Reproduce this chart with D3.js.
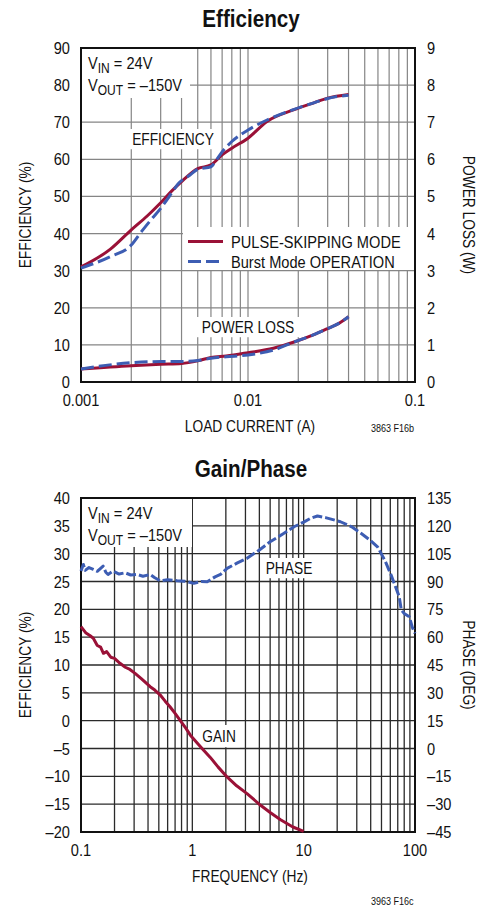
<!DOCTYPE html>
<html>
<head>
<meta charset="utf-8">
<script src="https://cdn.jsdelivr.net/npm/d3@7"></script>
<style>
  body { margin: 0; background: #fff; }
  svg text { font-family: 'Liberation Sans', Arial, sans-serif; fill: #111; }
</style>
</head>
<body>
<svg id="chart" width="493" height="907"></svg>
<script>
// ---- Efficiency chart data (load current in A) ----
let effLoadPS = [0.001, 0.0015, 0.002, 0.0025, 0.003, 0.0035, 0.004, 0.005, 0.006, 0.007, 0.008, 0.01, 0.013, 0.0187, 0.025, 0.03, 0.04];
let effPS     = [31, 35.8, 41, 44.8, 48.3, 51.5, 54, 57.5, 58.5, 61.2, 63, 65.7, 70.2, 73.3, 75.3, 76.5, 77.5];
let effLoadBM = [0.001, 0.0015, 0.002, 0.0023, 0.0026, 0.003, 0.0035, 0.0038, 0.0045, 0.005, 0.006, 0.0065, 0.007, 0.008, 0.009, 0.01, 0.013, 0.0187, 0.025, 0.03, 0.04];
let effBM     = [30.7, 33.8, 36.9, 40.5, 43.5, 46.8, 51, 53.3, 55.8, 57.3, 58, 60, 62, 64.8, 66.6, 67.9, 70.6, 73.4, 75.3, 76.4, 77.3];
let lossLoad  = [0.001, 0.002, 0.003, 0.004, 0.005, 0.006, 0.0074, 0.01, 0.0142, 0.0187, 0.0246, 0.0296, 0.035, 0.04];
let lossPS    = [0.35, 0.44, 0.48, 0.5, 0.57, 0.66, 0.7, 0.79, 0.91, 1.07, 1.27, 1.43, 1.58, 1.76];
let lossBM    = [0.35, 0.52, 0.55, 0.55, 0.58, 0.64, 0.68, 0.73, 0.86, 1.07, 1.27, 1.43, 1.58, 1.76];
let effTicks  = [0, 10, 20, 30, 40, 50, 60, 70, 80, 90];
let lossTicks = [0, 1, 2, 3, 4, 5, 6, 7, 8, 9];
let loadTicks = [0.001, 0.01, 0.1];

// ---- Gain/Phase chart data (frequency in Hz) ----
let phaseFreq = [0.1, 0.105, 0.109, 0.118, 0.129, 0.14, 0.158, 0.167, 0.175, 0.194, 0.22, 0.249, 0.28, 0.318, 0.36, 0.418, 0.46, 0.515, 0.6, 0.73, 0.85, 1.03, 1.2, 1.36, 1.6, 1.79, 2.05, 2.54, 3.1, 4, 5, 6.5, 8.2, 10, 11.5, 13.3, 16, 21.4, 27, 32.7, 40, 46.3, 54, 61, 72, 75.4, 80, 88.8, 95, 100];
let phase     = [95.6, 99.2, 96, 97.5, 96.5, 95.5, 98.3, 95, 93.8, 95.6, 94, 94.7, 93.5, 93.8, 92.8, 93.8, 92, 90.4, 91, 90.4, 90.2, 89, 90, 89.9, 92.5, 93.8, 97.1, 100, 102.5, 107, 111.4, 115.6, 119.5, 122, 124, 125.3, 124.3, 122.2, 119.5, 116, 112, 108.5, 101, 93.5, 82, 74.6, 72.8, 71, 65, 62];
let gainFreq  = [0.1, 0.11, 0.12, 0.129, 0.14, 0.15, 0.159, 0.17, 0.185, 0.2, 0.224, 0.25, 0.275, 0.306, 0.35, 0.418, 0.46, 0.515, 0.57, 0.63, 0.7, 0.78, 0.87, 0.96, 1.2, 1.45, 1.7, 2.05, 2.5, 3.1, 4.1, 5, 6.2, 8, 10];
let gain      = [16.9, 15.8, 15.3, 14.8, 13.5, 13.2, 12.1, 12.4, 11.4, 11.2, 10.3, 9.6, 9.2, 8.5, 7.5, 6.1, 5.5, 4.6, 3.5, 2.5, 1.3, 0, -1.3, -2.6, -4.8, -6.6, -8.3, -10.1, -11.7, -13.1, -15.2, -16.5, -17.8, -19.1, -19.9];
let gainTicks  = [-20, -15, -10, -5, 0, 5, 10, 15, 20, 25, 30, 35, 40];
let phaseTicks = [-45, -30, -15, 0, 15, 30, 45, 60, 75, 90, 105, 120, 135];
let freqTicks  = [0.1, 1, 10, 100];

const RED = '#9a1137', BLUE = '#3d5db3';
const SX = 0.86; // squeeze text to look like a condensed face
let svg = d3.select('#chart');
let zip = (xs, ys) => xs.map((x, i) => ({x: x, y: ys[i]}));
let minus = (v) => String(v).replace('-', '\u2013');
let at = (x, y, rot) => 'translate(' + x + ',' + y + ')' + (rot ? ' rotate(' + rot + ')' : '') + ' scale(' + SX + ',1)';

function label(parent, x, y, str, size, anchor, rot) {
  return parent.append('text')
    .attr('transform', at(x, y, rot))
    .attr('text-anchor', anchor || 'start')
    .style('font-size', size + 'px')
    .text(str);
}

// draws frame, grid, tick labels for one panel and returns scales
function panel(opt) {
  let g = svg.append('g');
  let x = d3.scaleLog().domain(opt.xDomain).range([opt.left, opt.right]);
  let yL = d3.scaleLinear().domain(opt.yLeft).range([opt.bottom, opt.top]);
  let yR = d3.scaleLinear().domain(opt.yRight).range([opt.bottom, opt.top]);

  // vertical log grid
  g.append('g').selectAll('line')
    .data(x.ticks())
    .enter().append('line')
    .attr('x1', (d) => x(d)).attr('x2', (d) => x(d))
    .attr('y1', opt.top).attr('y2', opt.bottom)
    .attr('stroke', opt.grid).attr('stroke-width', opt.gridW);

  g.append('g').selectAll('line')
    .data(opt.leftTicks)
    .enter().append('line')
    .attr('x1', opt.left).attr('x2', opt.right)
    .attr('y1', (d) => yL(d)).attr('y2', (d) => yL(d))
    .attr('stroke', opt.grid).attr('stroke-width', opt.gridW);

  g.append('rect')
    .attr('x', opt.left).attr('y', opt.top)
    .attr('width', opt.right - opt.left).attr('height', opt.bottom - opt.top)
    .attr('fill', 'none').attr('stroke', '#111').attr('stroke-width', 2);

  // tick labels
  g.append('g').selectAll('text')
    .data(opt.leftTicks)
    .enter().append('text')
    .attr('transform', (d) => at(opt.left - 11, yL(d) + 6))
    .attr('text-anchor', 'end').style('font-size', '17px')
    .text((d) => minus(d));

  g.append('g').selectAll('text')
    .data(opt.rightTicks)
    .enter().append('text')
    .attr('transform', (d) => at(opt.right + 12, yR(d) + 6))
    .attr('text-anchor', 'start').style('font-size', '17px')
    .text((d) => minus(d));

  g.append('g').selectAll('text')
    .data(opt.xTicks)
    .enter().append('text')
    .attr('transform', (d) => at(x(d), opt.bottom + 24))
    .attr('text-anchor', 'middle').style('font-size', '17px')
    .text((d) => d);

  // titles
  label(g, 251, opt.top - 21, opt.title, 24, 'middle').style('font-weight', 'bold');

  let mid = (opt.top + opt.bottom) / 2;
  label(g, 31, mid, opt.leftLabel, 16, 'middle', -90);
  label(g, 463, mid, opt.rightLabel, 16, 'middle', 90);
  label(g, (opt.left + opt.right) / 2 + 2, opt.bottom + 50, opt.xLabel, 16, 'middle');
  label(g, 371, opt.bottom + opt.noteDy, opt.note, 10.5);

  // VIN / VOUT box
  g.append('rect').attr('x', opt.left + 1).attr('y', opt.top + 1)
    .attr('width', opt.vBox[0]).attr('height', opt.vBox[1]).attr('fill', '#fff');
  let v1 = label(g, opt.left + 7, opt.top + 21, '', 17);
  v1.append('tspan').text('V');
  v1.append('tspan').attr('dy', 4).style('font-size', '14px').text('IN');
  v1.append('tspan').attr('dy', -4).text(' = 24V');
  let v2 = label(g, opt.left + 7, opt.top + 43, '', 17);
  v2.append('tspan').text('V');
  v2.append('tspan').attr('dy', 4).style('font-size', '14px').text('OUT');
  v2.append('tspan').attr('dy', -4).text(' = \u2013150V');

  return {g: g, x: x, yL: yL, yR: yR};
}

// text with a white patch behind it (hides the grid)
function boxLabel(g, x, y, txt, padX, padY) {
  let t = label(g, x, y + 6, txt, 16, 'middle');
  let b = t.node().getBBox();
  g.insert('rect', function () { return t.node(); })
    .attr('x', x + b.x * SX - padX).attr('y', y + 6 + b.y - padY)
    .attr('width', b.width * SX + 2 * padX).attr('height', b.height + 2 * padY)
    .attr('fill', '#fff');
}

// ---------------- Efficiency ----------------
let effPanel = panel({
  title: 'Efficiency', left: 81, right: 415, top: 48, bottom: 382,
  xDomain: [0.001, 0.1], yLeft: [0, 90], yRight: [0, 9],
  leftTicks: effTicks, rightTicks: lossTicks, xTicks: loadTicks,
  grid: '#858585', gridW: 1.2,
  leftLabel: 'EFFICIENCY (%)', rightLabel: 'POWER LOSS (W)', xLabel: 'LOAD CURRENT (A)',
  note: '3863 F16b', noteDy: 50, vBox: [108, 49]
});

boxLabel(effPanel.g, 173, 139, 'EFFICIENCY', 4, 1);
boxLabel(effPanel.g, 248, 327, 'POWER LOSS', 5, 1);

// legend
let leg = effPanel.g.append('g');
leg.append('rect').attr('x', 183).attr('y', 227).attr('width', 231).attr('height', 43).attr('fill', '#fff');
leg.append('line').attr('x1', 188).attr('x2', 223).attr('y1', 241.5).attr('y2', 241.5)
  .attr('stroke', RED).attr('stroke-width', 3);
leg.append('line').attr('x1', 188).attr('x2', 224).attr('y1', 261.5).attr('y2', 261.5)
  .attr('stroke', BLUE).attr('stroke-width', 3).attr('stroke-dasharray', '13,5');
label(leg, 231, 247.5, 'PULSE-SKIPPING MODE', 17);
label(leg, 231, 267.5, 'Burst Mode OPERATION', 17);

let effLine = d3.line().x((d) => effPanel.x(d.x)).y((d) => effPanel.yL(d.y)).curve(d3.curveMonotoneX);
let lossLine = d3.line().x((d) => effPanel.x(d.x)).y((d) => effPanel.yR(d.y)).curve(d3.curveMonotoneX);

effPanel.g.append('path').attr('d', effLine(zip(effLoadPS, effPS)))
  .attr('fill', 'none').attr('stroke', RED).attr('stroke-width', 3);
effPanel.g.append('path').attr('d', lossLine(zip(lossLoad, lossPS)))
  .attr('fill', 'none').attr('stroke', RED).attr('stroke-width', 3);
effPanel.g.append('path').attr('d', effLine(zip(effLoadBM, effBM)))
  .attr('fill', 'none').attr('stroke', BLUE).attr('stroke-width', 3).attr('stroke-dasharray', '13,5');
effPanel.g.append('path').attr('d', lossLine(zip(lossLoad, lossBM)))
  .attr('fill', 'none').attr('stroke', BLUE).attr('stroke-width', 3).attr('stroke-dasharray', '13,5');

// ---------------- Gain/Phase ----------------
let gpPanel = panel({
  title: 'Gain/Phase', left: 81, right: 415, top: 498, bottom: 832,
  xDomain: [0.1, 100], yLeft: [-20, 40], yRight: [-45, 135],
  leftTicks: gainTicks, rightTicks: phaseTicks, xTicks: freqTicks,
  grid: '#2a2a2a', gridW: 1.3,
  leftLabel: 'EFFICIENCY (%)', rightLabel: 'PHASE (DEG)', xLabel: 'FREQUENCY (Hz)',
  note: '3963 F16c', noteDy: 73, vBox: [110, 48]
});

boxLabel(gpPanel.g, 289, 568, 'PHASE', 4, 1);
boxLabel(gpPanel.g, 219, 736, 'GAIN', 4, 2);

let gainLine = d3.line().x((d) => gpPanel.x(d.x)).y((d) => gpPanel.yL(d.y));
let phaseLine = d3.line().x((d) => gpPanel.x(d.x)).y((d) => gpPanel.yR(d.y));

gpPanel.g.append('path').attr('d', gainLine(zip(gainFreq, gain)))
  .attr('fill', 'none').attr('stroke', RED).attr('stroke-width', 3).attr('stroke-linejoin', 'round');
gpPanel.g.append('path').attr('d', phaseLine(zip(phaseFreq, phase)))
  .attr('fill', 'none').attr('stroke', BLUE).attr('stroke-width', 3)
  .attr('stroke-dasharray', '10,3').attr('stroke-linejoin', 'round');
</script>
</body>
</html>
